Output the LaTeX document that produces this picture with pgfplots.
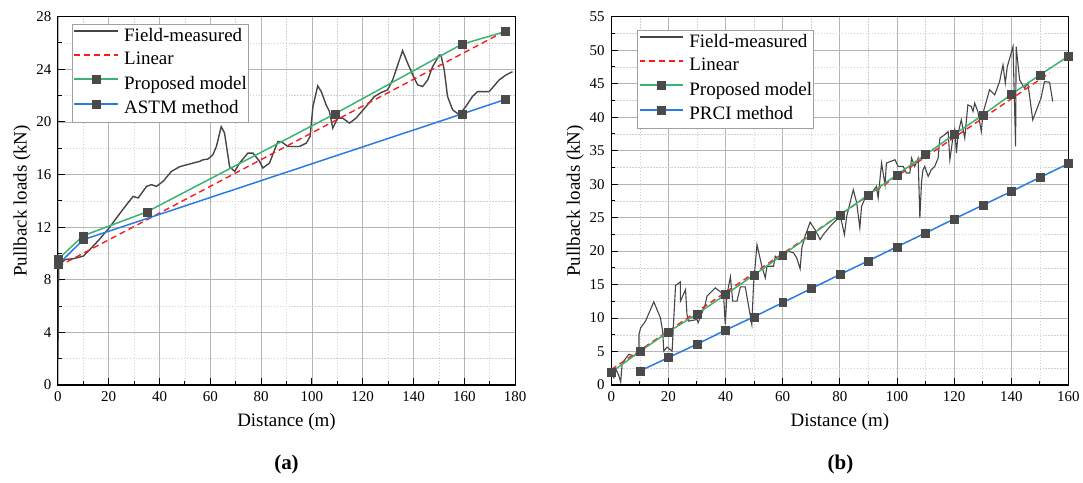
\documentclass[border=0pt]{standalone}
\usepackage{fontspec}
\setmainfont{Liberation Serif}
\usepackage{pgfplots}
\pgfplotsset{compat=1.18}
\definecolor{fieldc}{HTML}{454545}
\definecolor{redc}{HTML}{FF1A1A}
\definecolor{greenc}{HTML}{3CB371}
\definecolor{bluec}{HTML}{2B7BE4}
\definecolor{markc}{HTML}{4A4A4A}
\definecolor{gridmaj}{HTML}{B4B4B4}
\definecolor{gridmin}{HTML}{D0D0D0}
\definecolor{legendc}{HTML}{A0A0A0}
\pgfplotsset{
  myaxis/.style={
    scale only axis, width=458pt, height=369pt,
    axis line style={line width=1.2pt, black},
    tick align=inside, xtick pos=bottom, ytick pos=left,
    major tick length=7pt, minor tick length=4pt,
    every tick/.style={black, line width=1pt},
    minor tick num=1,
    grid=both,
    major grid style={color=gridmaj, line width=0.8pt},
    minor grid style={color=gridmin, line width=0.6pt, dash pattern=on 1.5pt off 1.5pt},
    ticklabel style={font=\fontsize{15}{18}\selectfont, black},
    /pgf/number format/assume math mode=true,
    xticklabel style={yshift=-3pt},
    yticklabel style={xshift=-3pt},
    label style={font=\fontsize{19}{22}\selectfont},
    xlabel style={at={(axis description cs:0.5,-0.101)}, anchor=center},
    ylabel style={at={(axis description cs:-0.0786,0.5)}, anchor=center},
    legend cell align=left,
    legend style={anchor=north west, draw=legendc, fill=white,
      inner xsep=1pt, inner ysep=4pt, row sep=6.5pt, column sep=5pt,
      font=\fontsize{19}{22}\selectfont,
      nodes={inner sep=0pt, text height=13pt, text depth=4pt}},
  },
  fieldst/.style={color=fieldc, line width=#1, no marks},
  linst/.style={color=redc, line width=1.4pt, dash pattern=on 6pt off 4pt, no marks},
  propst/.style={color=greenc, line width=1.5pt, mark=square*, mark size=4pt,
    mark options={solid, fill=markc, draw=markc, line width=0.4pt}},
  astmst/.style={color=bluec, line width=1.5pt, mark=square*, mark size=4pt,
    mark options={solid, fill=markc, draw=markc, line width=0.4pt}},
  limgA/.style={legend image code/.code={\draw[fieldc, line width=1.6pt, solid] (0pt,5.5pt) -- (44pt,5.5pt);}},
  limgB/.style={legend image code/.code={\draw[redc, line width=2pt, dash pattern=on 6pt off 4pt] (0pt,5.5pt) -- (44pt,5.5pt);}},
  limgC/.style={legend image code/.code={\draw[greenc, line width=2pt, solid] (0pt,5.5pt) -- (44pt,5.5pt);
      \fill[markc] (18pt,1.5pt) rectangle (26pt,9.5pt);}},
  limgD/.style={legend image code/.code={\draw[bluec, line width=2pt, solid] (0pt,5.5pt) -- (44pt,5.5pt);
      \fill[markc] (18pt,1.5pt) rectangle (26pt,9.5pt);}},
}
\begin{document}
\begin{tikzpicture}
\path (0,0) rectangle (1083pt,483pt);
% ---------------- (a) ----------------
\begin{axis}[myaxis, at={(58pt,97.3pt)}, anchor=south west,
  xmin=0, xmax=180, ymin=0, ymax=28,
  xtick={0,20,...,180}, ytick={0,4,...,28},
  xlabel={Distance (m)}, ylabel={Pullback loads (kN)},
  legend style={at={(0.031,0.980)}},
  legend entries={Field-measured, Linear, Proposed model, ASTM method}]
\addlegendimage{limgA}
\addlegendimage{limgB}
\addlegendimage{limgC}
\addlegendimage{limgD}
\addplot[fieldst=1.4pt, forget plot] coordinates {
(0,2.0) (0.3,8.9) (1.5,9.3) (3,9.55) (6,9.6) (10,9.8) (12.6,10.3) (16,11.0) (20,11.9) (25,13.2)
(29.6,14.34) (31.6,14.22) (34.9,15.1) (36.8,15.23) (38.8,15.1) (41.4,15.48) (44.7,16.24) (48,16.6)
(53.2,16.87) (55.8,17.0) (57.1,17.12) (59.1,17.18) (61,17.5) (62.4,18.13) (64.3,19.65) (65.6,19.15)
(67.6,16.6) (69.6,16.24) (71.5,16.87) (74.8,17.63) (76.8,17.63) (79.4,17.0) (80.7,16.5) (83.3,16.87)
(86.6,18.51) (87.9,18.51) (90.5,18.13) (95.1,18.13) (97.8,18.39) (99.3,18.9) (100.4,21.17) (102.3,22.74)
(103.7,22.3) (105.6,21.3) (106.9,20.79) (108.2,19.53) (110.2,20.29) (112.1,20.29) (114.8,19.91)
(117.4,20.29) (121.3,21.17) (124.6,21.93) (127.2,22.23) (129.8,22.44) (131.8,23.19) (135.7,25.42)
(137.7,24.46) (139.7,23.57) (141.6,22.82) (143.6,22.69) (145.6,23.19) (147.5,24.2) (150.2,25.09)
(150.8,25.09) (152.1,23.95) (153.4,21.93) (155.4,20.92) (158,20.54) (160.6,21.17) (163.2,21.93)
(165.2,22.3) (169.8,22.3) (173.7,23.19) (176.4,23.57) (179,23.82)};
\addplot[linst, forget plot] coordinates {(0,9.0) (176,26.9)};
\addplot[propst, forget plot] coordinates {(0,9.55) (10,11.35) (35,13.16) (109,20.61) (159,25.9) (176,26.86)};
\addplot[astmst, forget plot] coordinates {(0,9.15) (10,11.05) (159,20.6) (176,21.7)};
\end{axis}
% ---------------- (b) ----------------
\begin{axis}[myaxis, at={(612.3pt,97.3pt)}, anchor=south west,
  xmin=0, xmax=160, ymin=0, ymax=55,
  xtick={0,20,...,160}, ytick={0,5,...,55},
  xlabel={Distance (m)}, ylabel={Pullback loads (kN)},
  legend style={at={(0.057,0.964)}},
  legend entries={Field-measured, Linear, Proposed model, PRCI method}]
\addlegendimage{limgA}
\addlegendimage{limgB}
\addlegendimage{limgC}
\addlegendimage{limgD}
\addplot[fieldst=1.1pt, forget plot] coordinates {
(0,1.85) (0.9,1.1) (1.7,2.34) (2.7,1.34) (3.3,0.45) (3.8,3.1) (4.8,3.83) (6.2,4.6) (7.9,4.32) (9.1,4.92)
(9.7,5.32) (9.7,7.56) (10.3,8.55) (12,9.55) (14.9,12.43) (17.2,10.04) (18,8.05) (18.4,5.07) (19.5,5.66)
(21.3,5.07) (22.5,14.86) (24.2,15.41) (24.2,12.52) (26,14.26) (26.5,10.54) (27.1,9.54) (30,9.79)
(30.4,9.3) (32.9,12.03) (33.5,13.27) (36.4,14.52) (39.3,13.52) (39.9,9.05) (40.5,13.52) (41.7,16.16)
(42.5,12.52) (44,12.52) (45.2,14.66) (46.9,14.66) (49.2,9.05) (49.8,15.01) (51,20.97) (52.7,17.74)
(53.9,16.0) (54.5,17.74) (56.8,17.74) (57.4,19.23) (58.5,18.74) (60.3,19.48) (62,19.97) (63.8,19.73)
(64.9,18.99) (66.1,17.35) (66.7,20.48) (67.8,22.21) (69.6,24.3) (71.3,23.2) (73.1,21.72) (74.2,22.46)
(76.6,23.7) (80,25.19) (80.6,24.45) (81.6,22.46) (82.4,25.19) (84.7,29.17) (85.9,27.19) (87,23.46)
(87.6,26.68) (89.4,28.42) (90.3,28.17) (92.8,29.66) (93.4,27.93) (94.6,33.15) (95.8,29.91) (96.3,33.15)
(99.3,33.64) (100.4,32.64) (102.2,32.64) (103.3,31.66) (104.5,31.66) (105.1,33.89) (106.2,32.64)
(107.4,33.89) (108,24.95) (108.6,30.41) (109.1,32.15) (109.7,32.64) (110.9,31.15) (112,32.15)
(113.2,32.64) (114.4,33.89) (115,36.88) (116.7,37.37) (117.9,37.86) (118.5,33.64) (119,35.13)
(119.6,37.11) (120.2,38.11) (120.8,34.64) (121.4,37.62) (122.5,39.6) (123.7,36.88) (124.8,41.84)
(126,41.59) (126.6,40.84) (127.2,42.09) (128.3,40.84) (129.5,37.86) (130.1,40.6) (132.4,44.08)
(134.2,43.33) (135.9,45.31) (137.1,47.8) (137.9,45.07) (138.6,47.55) (140.6,50.53) (141.5,35.62)
(141.7,50.53) (142.9,45.57) (144.6,44.33) (145.8,45.07) (147.5,39.6) (150.4,42.84) (151.6,45.31)
(153.4,45.22) (154.5,42.33)};
\addplot[linst, forget plot] coordinates {(0,2.3) (153.4,46.6)};
\addplot[propst, forget plot] coordinates {(0,1.9) (10,5.0) (20,7.95) (30,10.6) (40,13.5) (50,16.45) (60,19.45)
(70,22.4) (80,25.4) (90,28.4) (100,31.4) (110,34.4) (120,37.4) (130,40.3) (140,43.4) (150,46.3) (160,49.1)};
\addplot[astmst, forget plot] coordinates {(10,2.1) (20,4.1) (30,6.1) (40,8.2) (50,10.2) (60,12.3) (70,14.4)
(80,16.5) (90,18.55) (100,20.65) (110,22.7) (120,24.8) (130,26.85) (140,28.9) (150,31.0) (160,33.05)};
\end{axis}
\node[font=\fontsize{21}{24}\selectfont\bfseries] at (287pt,18pt) {(a)};
\node[font=\fontsize{21}{24}\selectfont\bfseries] at (842pt,18pt) {(b)};
\end{tikzpicture}
\end{document}
